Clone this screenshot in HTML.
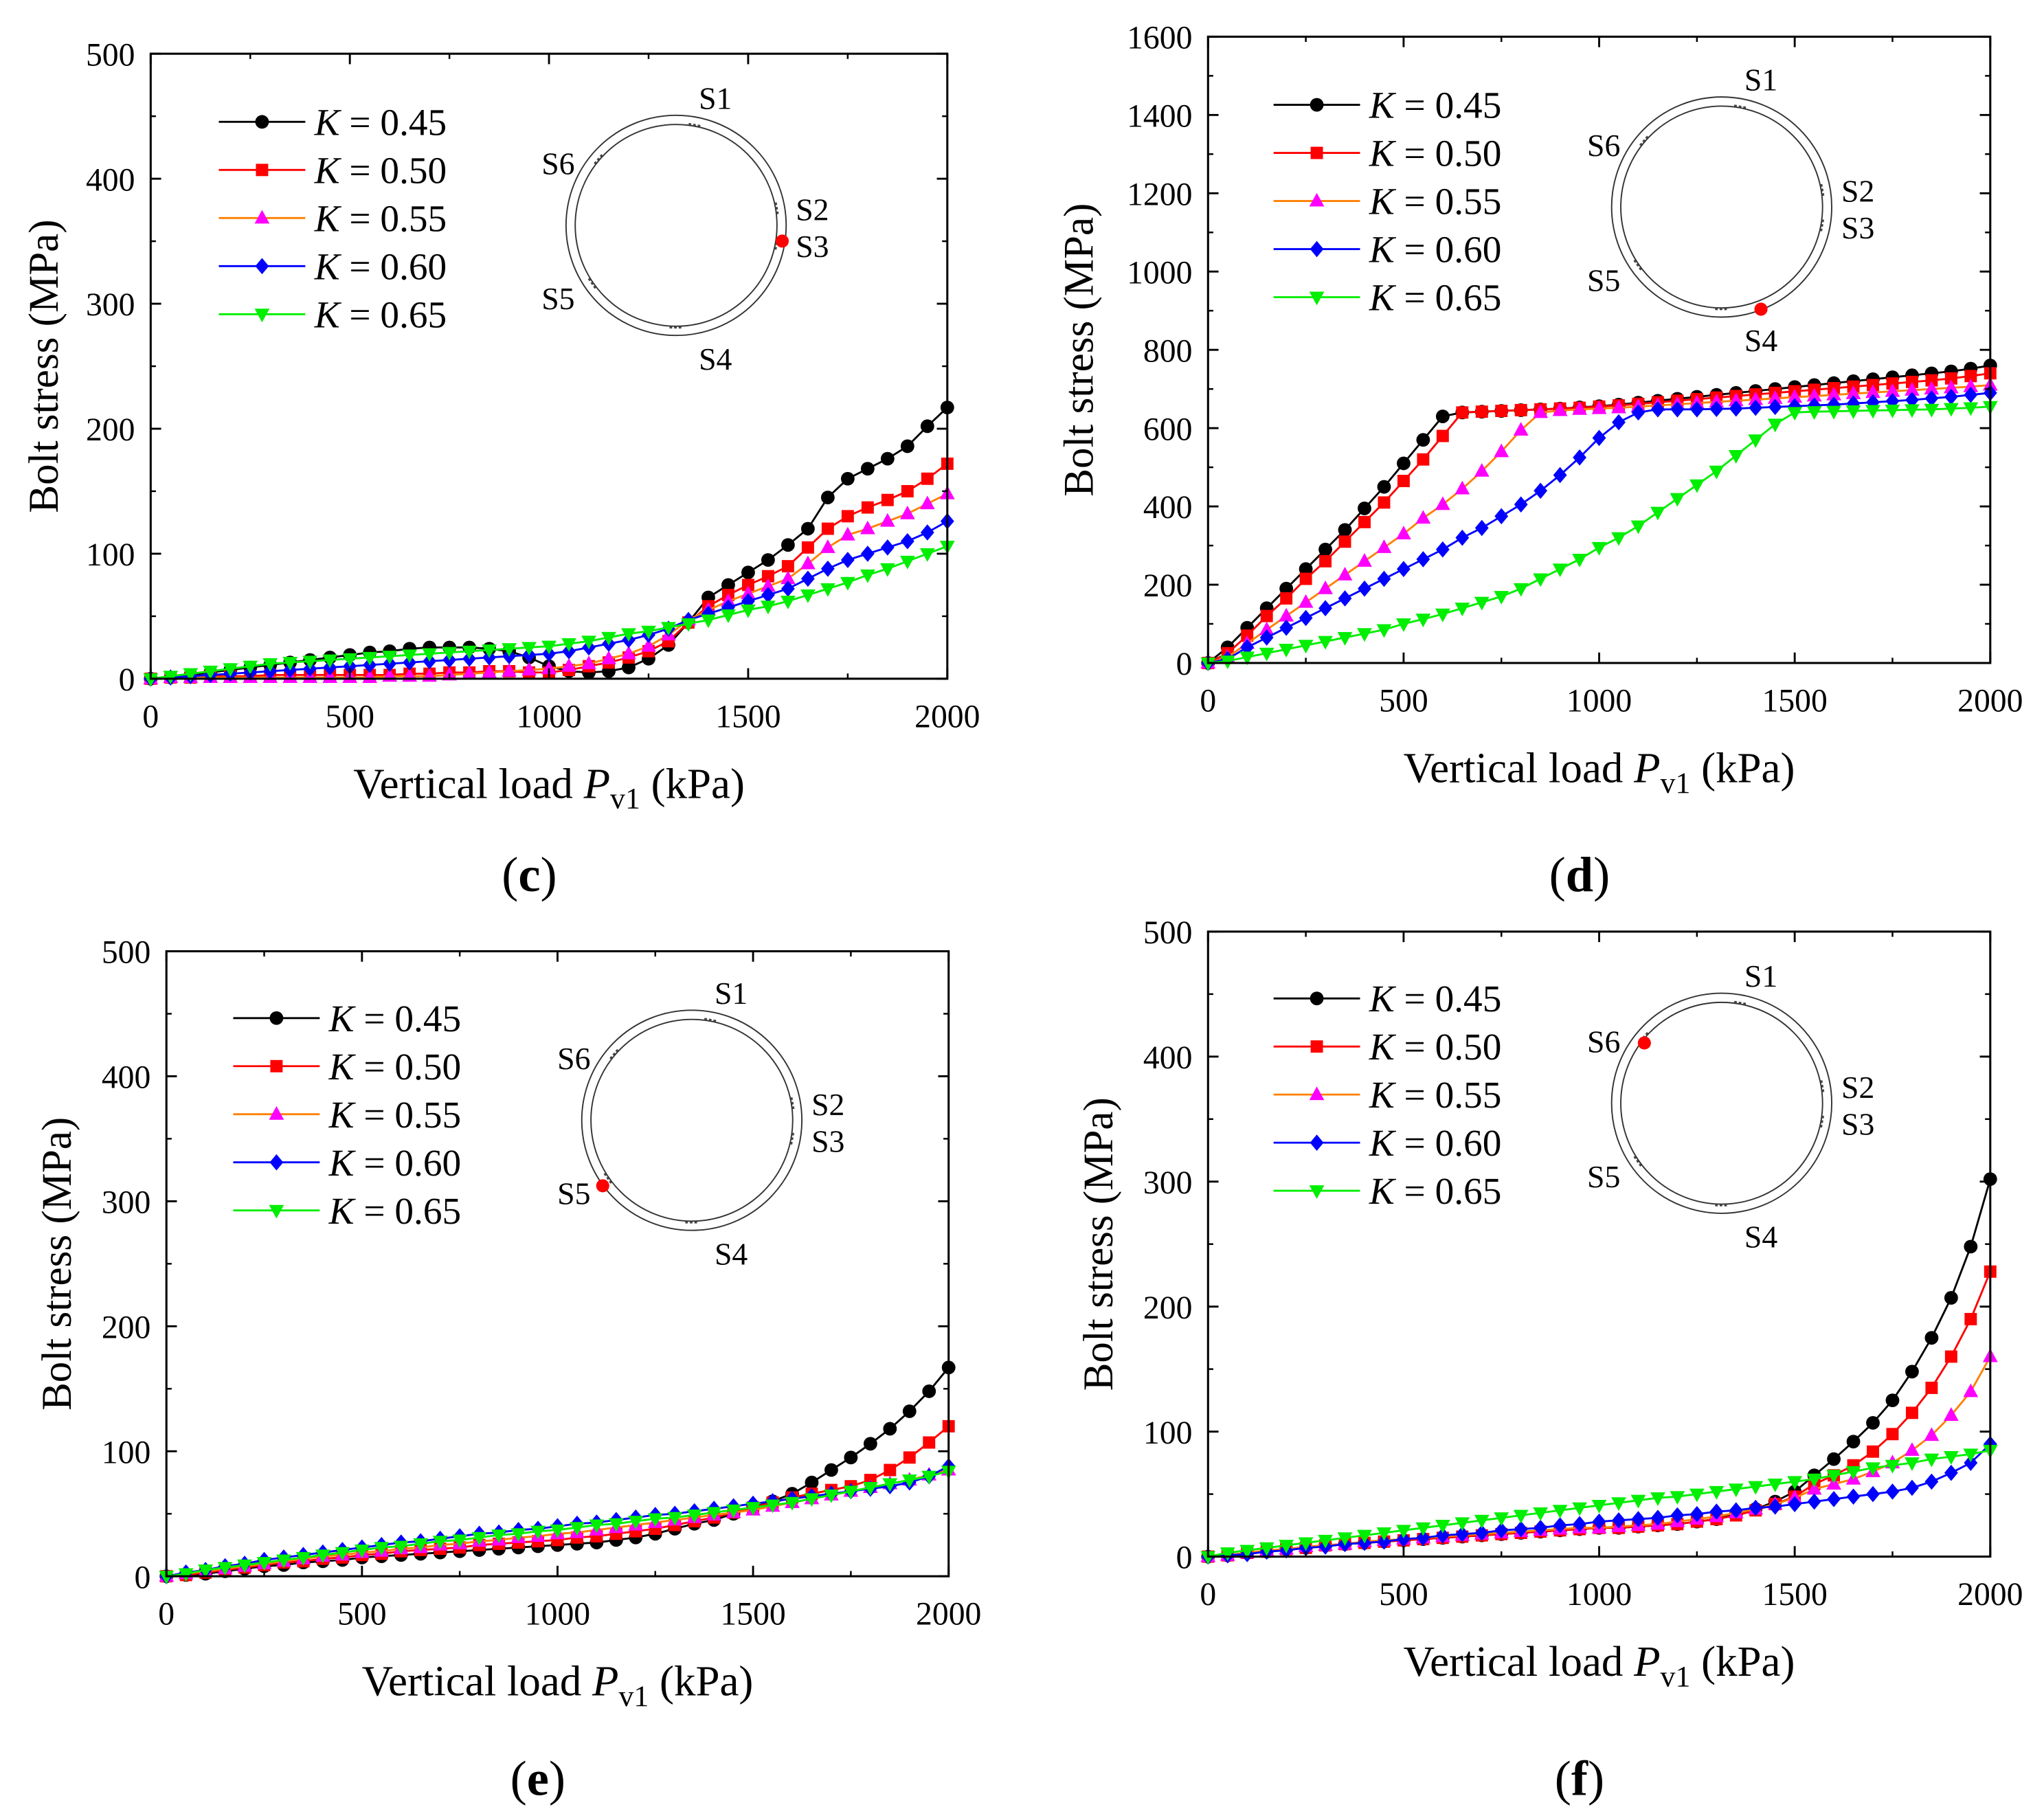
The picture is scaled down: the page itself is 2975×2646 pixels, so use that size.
<!DOCTYPE html>
<html><head><meta charset="utf-8">
<style>
html,body{margin:0;padding:0;background:#fff;}
svg{display:block;}
text{font-family:"Liberation Serif",serif;fill:#000;}
</style></head>
<body>
<svg id="fig" xmlns="http://www.w3.org/2000/svg" width="2975" height="2646" viewBox="0 0 1560 1387.5">
<rect x="0" y="0" width="1560" height="1387.5" fill="#fff"/>
</svg>
<script>
const NS = "http://www.w3.org/2000/svg";
const svg = document.getElementById('fig');

const xValues = [];
for (let i = 0; i <= 40; i++) xValues.push(i * 50);
const kLabels = ["0.45", "0.50", "0.55", "0.60", "0.65"];
const xTicks = [0, 500, 1000, 1500, 2000];
const yTicks500 = [0, 100, 200, 300, 400, 500];
const yTicks1600 = [0, 200, 400, 600, 800, 1000, 1200, 1400, 1600];

// Panel c (S3)
const c45 = [0,1,3,5,7,9,11,13,15,17,19,21,22,24,25,25,25,24,22,17,10,6,5,6,9,16,27,45,65,75,85,95,107,120,145,160,168,176,186,202,217];
const c50 = [0,1,1,2,2,2,3,3,3,3,3,3,3,4,4,5,5,6,6,5,5,7,10,13,17,22,30,45,58,67,75,82,90,105,120,130,137,143,150,160,172];
const c55 = [0,1,1,1,1,1,1,1,1,1,1,1,2,2,2,3,4,5,6,7,8,10,12,16,20,26,35,47,55,62,68,74,80,92,105,115,120,126,132,140,148];
const c60 = [0,1,2,3,4,5,6,7,8,9,10,11,12,13,14,15,16,17,18,19,20,22,25,28,31,35,40,47,52,57,62,67,72,80,88,95,100,105,110,117,126];
const c65 = [0,2,4,6,8,10,12,13,14,15,16,17,18,19,20,21,22,23,24,25,26,28,30,33,36,38,41,44,47,51,55,58,62,67,72,77,83,88,94,100,106];
// Panel d (S4)
const d45 = [0,40,90,140,190,240,290,340,395,450,510,570,630,640,642,644,646,648,650,653,656,660,665,670,675,680,685,690,695,700,705,710,715,720,725,730,735,740,745,752,760];
const d50 = [0,25,70,120,165,215,260,310,360,410,465,520,580,640,642,644,646,648,650,652,655,658,662,666,670,674,678,682,686,690,694,698,702,706,710,714,718,722,727,733,740];
const d55 = [0,15,50,85,120,155,190,225,260,295,330,370,405,445,490,540,595,640,645,648,650,652,655,658,661,664,667,670,673,676,679,682,685,688,691,694,697,700,703,706,710];
const d60 = [0,10,40,65,90,115,140,165,190,215,240,265,290,320,345,375,405,440,480,525,575,615,640,648,648,648,649,650,652,654,656,658,660,663,666,669,672,676,680,685,690];
const d65 = [0,5,15,25,35,45,55,65,75,85,100,112,125,140,155,170,190,215,240,265,295,320,350,385,420,455,490,530,570,610,640,642,643,644,645,646,647,648,650,652,655];
// Panel e (S5)
const e45 = [0,1,2,4,6,8,9,11,12,13,15,16,17,18,19,20,21,22,23,24,25,26,27,29,31,34,38,42,45,50,55,60,66,75,85,95,106,118,132,148,167];
const e50 = [0,1,3,5,7,9,11,12,14,15,17,18,20,21,22,23,25,26,27,28,29,31,32,34,36,38,41,44,47,51,55,59,63,66,69,72,77,85,95,107,120];
const e55 = [0,2,4,6,8,10,12,14,16,17,19,20,22,23,25,26,28,29,31,32,34,35,37,39,41,43,45,47,49,51,53,56,59,62,65,68,71,74,77,81,85];
const e60 = [0,3,5,8,10,13,15,17,19,21,23,25,27,28,30,32,34,35,37,38,40,42,43,45,47,49,50,52,54,56,58,60,62,64,66,68,70,72,75,80,88];
const e65 = [0,2,5,7,9,11,13,15,17,19,21,23,24,26,28,29,31,33,34,36,37,39,41,42,44,46,47,49,51,53,55,57,59,62,65,68,71,74,77,80,84];
// Panel f (S6)
const f45 = [0,1,3,4,6,7,9,10,11,12,13,14,15,16,17,18,19,20,21,22,23,23,24,25,26,28,30,34,38,44,52,65,78,92,107,125,148,175,207,248,302];
const f50 = [0,1,3,4,6,7,9,10,11,12,13,14,15,16,17,18,19,20,21,22,23,23,24,25,26,28,30,33,37,42,48,58,65,73,84,98,115,135,160,190,228];
const f55 = [0,1,3,5,6,8,9,10,12,13,14,15,16,17,18,19,20,21,22,23,23,24,25,26,28,30,32,35,38,42,47,54,58,62,68,75,85,97,113,132,160];
const f60 = [0,1,2,4,5,7,8,10,11,12,14,15,17,18,19,21,22,23,25,26,28,29,30,31,33,34,36,37,39,40,42,44,46,48,50,52,55,60,67,75,90];
const f65 = [0,3,5,7,9,11,13,15,17,19,21,23,25,27,29,31,33,35,37,39,41,43,45,47,48,50,52,54,56,58,60,62,65,68,71,73,75,78,80,82,85];

const styles = [
  {line:"#000", mark:"#000", shape:"circle"},
  {line:"#ff0000", mark:"#ff0000", shape:"square"},
  {line:"#ff8000", mark:"#ff00ff", shape:"tri"},
  {line:"#0000ff", mark:"#0000ff", shape:"diamond"},
  {line:"#00ee00", mark:"#00ee00", shape:"trid"}
];

function el(tag, attrs, parent) {
  const e = document.createElementNS(NS, tag);
  for (const k in attrs) e.setAttribute(k, attrs[k]);
  (parent || svg).appendChild(e);
  return e;
}
function marker(g, shape, x, y, color, name) {
  const s = 5.2;
  let m;
  if (shape === "circle") m = el("circle", {cx:x, cy:y, r:s, fill:color}, g);
  else if (shape === "square") m = el("rect", {x:x-s+0.5, y:y-s+0.5, width:2*s-1, height:2*s-1, fill:color}, g);
  else if (shape === "tri") m = el("polygon", {points:`${x},${y-s-1} ${x-s-0.5},${y+s-1} ${x+s+0.5},${y+s-1}`, fill:color}, g);
  else if (shape === "trid") m = el("polygon", {points:`${x},${y+s+1} ${x-s-0.5},${y-s+1} ${x+s+0.5},${y-s+1}`, fill:color}, g);
  else m = el("polygon", {points:`${x},${y-s-1} ${x+s},${y} ${x},${y+s+1} ${x-s},${y}`, fill:color}, g);
  
  
}

function panel(p) {
  const g = el("g", {});
  
  
  const W = p.x1 - p.x0, H = p.y1 - p.y0;
  const sx = v => p.x0 + v / 2000 * W;
  const sy = v => p.y1 - v / p.ymax * H;
  p.series.forEach((vals, si) => {
    const st = styles[si];
    const pts = vals.map((v, i) => sx(xValues[i]) + "," + sy(v)).join(" ");
    const line = el("polyline", {points:pts, fill:"none", stroke:st.line, "stroke-width":1.5}, g);
    
    
    vals.forEach((v, i) => marker(g, st.shape, sx(xValues[i]), sy(v), st.mark, 'point-k' + kLabels[si]));
  });
  const fr = el("rect", {x:p.x0, y:p.y0, width:W, height:H, fill:"none", stroke:"#000", "stroke-width":1.6}, g);
  
  
  xTicks.forEach((t, i) => {
    const x = sx(t);
    el("line", {x1:x, y1:p.y1, x2:x, y2:p.y1-8, stroke:"#000", "stroke-width":1.5}, g);
    el("line", {x1:x, y1:p.y0, x2:x, y2:p.y0+8, stroke:"#000", "stroke-width":1.5}, g);
    if (i < xTicks.length - 1) {
      const xm = sx(t + 250);
      el("line", {x1:xm, y1:p.y1, x2:xm, y2:p.y1-4, stroke:"#000", "stroke-width":1.3}, g);
      el("line", {x1:xm, y1:p.y0, x2:xm, y2:p.y0+4, stroke:"#000", "stroke-width":1.3}, g);
    }
    const tx = el("text", {x:x, y:p.y1+37, "font-size":25, "text-anchor":"middle"}, g);
    tx.textContent = t;
    
    
  });
  p.yTicks.forEach((t, i) => {
    const y = sy(t);
    el("line", {x1:p.x0, y1:y, x2:p.x0+8, y2:y, stroke:"#000", "stroke-width":1.5}, g);
    el("line", {x1:p.x1, y1:y, x2:p.x1-8, y2:y, stroke:"#000", "stroke-width":1.5}, g);
    if (i < p.yTicks.length - 1) {
      const ym = sy(t + (p.yTicks[1] - p.yTicks[0]) / 2);
      el("line", {x1:p.x0, y1:ym, x2:p.x0+4, y2:ym, stroke:"#000", "stroke-width":1.3}, g);
      el("line", {x1:p.x1, y1:ym, x2:p.x1-4, y2:ym, stroke:"#000", "stroke-width":1.3}, g);
    }
    const ty = el("text", {x:p.x0-12, y:y+9, "font-size":25, "text-anchor":"end"}, g);
    ty.textContent = t;
    
    
  });
  const yt = el("text", {x:0, y:0, "font-size":32, "text-anchor":"middle", transform:`translate(${p.ytx},${(p.y0+p.y1)/2}) rotate(-90)`}, g);
  yt.textContent = "Bolt stress (MPa)";
  
  
  const xt = el("text", {x:(p.x0+p.x1)/2, y:p.y1+91, "font-size":33, "text-anchor":"middle"}, g);
  xt.innerHTML = 'Vertical load <tspan font-style="italic">P</tspan><tspan font-size="23" dy="8">v1</tspan><tspan dy="-8"> (kPa)</tspan>';
  
  
  const pl = el("text", {x:(p.x0+p.x1)/2 - 15, y:p.letterY, "font-size":38, "text-anchor":"middle"}, g);
  pl.innerHTML = '(<tspan font-weight="bold">' + p.id + '</tspan>)';
  
  
  kLabels.forEach((k, i) => {
    const st = styles[i];
    const y = p.ly + i * 36.7;
    const lg = el("g", {}, g);
    
    
    el("line", {x1:p.lx, y1:y, x2:p.lx+66, y2:y, stroke:st.line, "stroke-width":1.5}, lg);
    marker(lg, st.shape, p.lx+33, y, st.mark, 'legend-marker');
    const lt = el("text", {x:p.lx+73, y:y+10, "font-size":29}, lg);
    lt.innerHTML = '<tspan font-style="italic">K</tspan> = ' + k;
  });
  const rg = el("g", {}, g);
  
  
  const cx = p.rc[0], cy = p.rc[1];
  el("circle", {cx:cx, cy:cy, r:84, fill:"none", stroke:"#333", "stroke-width":1}, rg);
  el("circle", {cx:cx, cy:cy, r:77, fill:"none", stroke:"#333", "stroke-width":1}, rg);
  [ -80, -10, 10, 90, 145, -140 ].forEach(a => {
    const r = a * Math.PI / 180;
    const bx = cx + 78 * Math.cos(r), by = cy + 78 * Math.sin(r);
    const b = el("line", {x1:bx - 5*Math.sin(r), y1:by + 5*Math.cos(r), x2:bx + 5*Math.sin(r), y2:by - 5*Math.cos(r), stroke:"#444", "stroke-width":1.4, "stroke-dasharray":"2,1.5"}, rg);
    
    
  });
  const lbl = [["S1",30,-89],["S2",104,-4],["S3",104,24],["S4",30,110],["S5",-90,64],["S6",-90,-39]];
  lbl.forEach(s => {
    const t = el("text", {x:cx+s[1], y:cy+s[2], "font-size":24, "text-anchor":"middle"}, rg);
    t.textContent = s[0];
    
    
  });
  const dot = el("circle", {cx:p.dot[0], cy:p.dot[1], r:5, fill:"#ff0000"}, rg);
  
  
}

panel({id:"c", x0:115, x1:723, y0:41, y1:518, ymax:500, yTicks:yTicks500, series:[c45,c50,c55,c60,c65],
  ytx:44, letterY:680, lx:167, ly:93, rc:[516,172], dot:[597,184]});
panel({id:"d", x0:922, x1:1519, y0:28, y1:506, ymax:1600, yTicks:yTicks1600, series:[d45,d50,d55,d60,d65],
  ytx:834, letterY:680, lx:972, ly:80, rc:[1314,158], dot:[1344,236]});
panel({id:"e", x0:127, x1:724, y0:726, y1:1203, ymax:500, yTicks:yTicks500, series:[e45,e50,e55,e60,e65],
  ytx:54, letterY:1370, lx:178, ly:777, rc:[528,855], dot:[460,905]});
panel({id:"f", x0:922, x1:1519, y0:711, y1:1188, ymax:500, yTicks:yTicks500, series:[f45,f50,f55,f60,f65],
  ytx:849, letterY:1370, lx:972, ly:762, rc:[1314,842], dot:[1255,796]});
</script>
</body></html>
